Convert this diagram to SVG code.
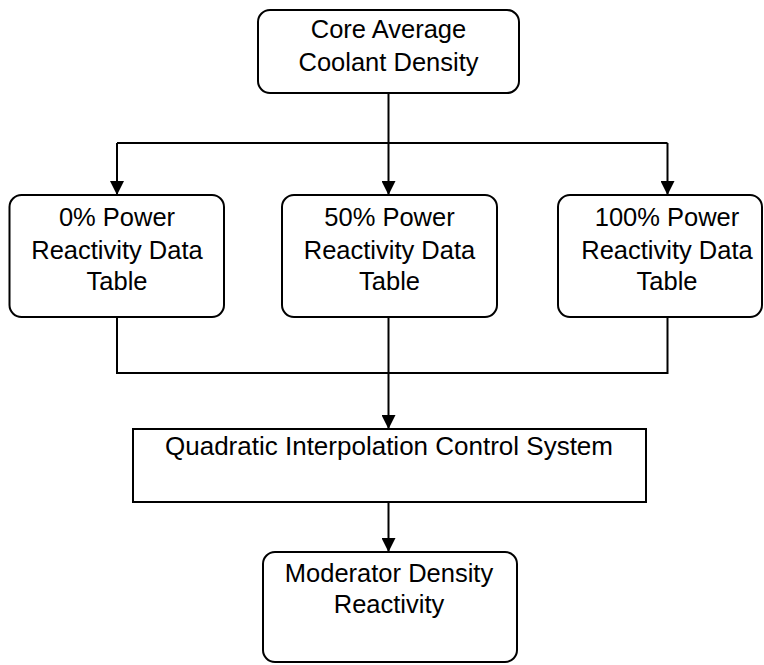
<svg xmlns="http://www.w3.org/2000/svg" width="764" height="665" viewBox="0 0 764 665">
<defs>
<style>
.box{fill:#fff;stroke:#000;stroke-width:2}
.t{font-family:"Liberation Sans",Arial,Helvetica,sans-serif;font-size:25.5px;fill:#000;text-anchor:middle}
.c{fill:none;stroke:#000;stroke-width:2}
</style>
<marker id="ah" viewBox="0 0 14 14" refX="14" refY="7" markerWidth="14" markerHeight="14" markerUnits="userSpaceOnUse" orient="auto">
<path d="M0,0 L14,7 L0,14 Z" fill="#000"/>
</marker>
</defs>
<g id="connectors">
<path class="c" d="M388.5,93 V143"/>
<path class="c" d="M117,143 H667.5"/>
<path class="c" d="M117,143 V195" marker-end="url(#ah)"/>
<path class="c" d="M388.5,143 V195" marker-end="url(#ah)"/>
<path class="c" d="M667.5,143 V195" marker-end="url(#ah)"/>
<path class="c" d="M117,317 V373 H667.5 V317"/>
<path class="c" d="M388.5,317 V373"/>
<path class="c" d="M388.5,373 V429" stroke-width="2.5" marker-end="url(#ah)"/>
<path class="c" d="M388.5,502 V552" marker-end="url(#ah)"/>
</g>
<g id="core">
<rect class="box" x="258" y="10" width="261" height="83" rx="12"/>
<text class="t" x="388.5" y="38">Core Average</text>
<text class="t" x="388.5" y="71">Coolant Density</text>
</g>
<g id="p0">
<rect class="box" x="9.5" y="195" width="214.5" height="122" rx="12"/>
<text class="t" x="117" y="226">0% Power</text>
<text class="t" x="117" y="258.5">Reactivity Data</text>
<text class="t" x="117" y="290">Table</text>
</g>
<g id="p50">
<rect class="box" x="282" y="195" width="215" height="122" rx="12"/>
<text class="t" x="389.5" y="226">50% Power</text>
<text class="t" x="389.5" y="258.5">Reactivity Data</text>
<text class="t" x="389.5" y="290">Table</text>
</g>
<g id="p100">
<rect class="box" x="558" y="195" width="204" height="122" rx="12"/>
<text class="t" x="667" y="226">100% Power</text>
<text class="t" x="667" y="258.5">Reactivity Data</text>
<text class="t" x="667" y="290">Table</text>
</g>
<g id="quad">
<rect class="box" x="133" y="429" width="513" height="73"/>
<text class="t" x="389" y="455" style="font-size:26px">Quadratic Interpolation Control System</text>
</g>
<g id="mod">
<rect class="box" x="263" y="552" width="254" height="110" rx="12"/>
<text class="t" x="389" y="582">Moderator Density</text>
<text class="t" x="389" y="613">Reactivity</text>
</g>
</svg>
